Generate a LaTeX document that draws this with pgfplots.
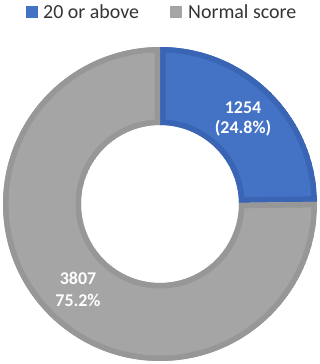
\documentclass[border=0pt]{standalone}
\usepackage{pgfplots}
\pgfplotsset{compat=1.18}
\usepackage{pgfplotstable}
\usepackage{fontspec}
\setmainfont{Carlito}
\definecolor{bluefill}{HTML}{4472C4}
\definecolor{blueedge}{HTML}{3A64B4}
\definecolor{grayfill}{HTML}{A5A5A5}
\definecolor{grayedge}{HTML}{979797}
\pgfplotstableread{
label value
above 1254
normal 3807
}\datatable
\newcommand\slice[4]{%
  \begin{scope}
    \clip (O) ++(#1:157bp) arc[start angle=#1, end angle=#2, radius=157bp]
      -- ([shift={(#2:79bp)}]O) arc[start angle=#2, end angle=#1, radius=79bp] -- cycle;
    \fill[#3] (O) ++(#1:157bp) arc[start angle=#1, end angle=#2, radius=157bp]
      -- ([shift={(#2:79bp)}]O) arc[start angle=#2, end angle=#1, radius=79bp] -- cycle;
    \draw[#4, line width=11bp] (O) ++(#1:157bp) arc[start angle=#1, end angle=#2, radius=157bp]
      -- ([shift={(#2:79bp)}]O) arc[start angle=#2, end angle=#1, radius=79bp] -- cycle;
  \end{scope}}
\begin{document}
\begin{tikzpicture}
\pgfplotstablegetelem{0}{value}\of\datatable \let\va\pgfplotsretval
\pgfplotstablegetelem{1}{value}\of\datatable \let\vb\pgfplotsretval
\pgfmathsetmacro\frac{\va/(\va+\vb)}
\pgfmathsetmacro\aA{90-360*\frac}
\begin{axis}[x=1bp, y=1bp, xmin=-160, xmax=160, ymin=-160, ymax=204,
  hide axis, clip=false]
\path (axis cs:-160,-160) rectangle (axis cs:160,204);
\coordinate (O) at (axis cs:0,0);
\slice{90}{\aA}{bluefill}{blueedge}
\slice{\aA}{-270}{grayfill}{grayedge}
% legend
\fill[bluefill] (axis cs:-134,186) rectangle (axis cs:-122,198);
\node[anchor=west, inner sep=0pt, text=black!80, font=\fontsize{20}{22}\selectfont] at (axis cs:-117,192.5) {20 or above};
\fill[grayfill] (axis cs:10,186) rectangle (axis cs:22,198);
\node[anchor=west, inner sep=0pt, text=black!80, font=\fontsize{20}{22}\selectfont] at (axis cs:28,192.5) {Normal score};
% labels
\node[text=white, font=\fontsize{18}{20}\selectfont\bfseries] at (axis cs:83,96) {1254};
\node[text=white, font=\fontsize{18}{20}\selectfont\bfseries] at (axis cs:83,76) {(24.8\%)};
\node[text=white, font=\fontsize{18}{20}\selectfont\bfseries] at (axis cs:-82,-74) {3807};
\node[text=white, font=\fontsize{18}{20}\selectfont\bfseries] at (axis cs:-82,-96) {75.2\%};
\end{axis}
\end{tikzpicture}
\end{document}
